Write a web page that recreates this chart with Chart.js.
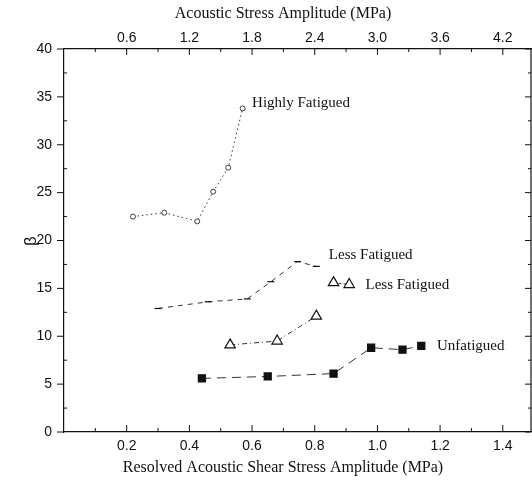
<!DOCTYPE html>
<html>
<head>
<meta charset="utf-8">
<script src="https://cdn.jsdelivr.net/npm/chart.js@4.4.1/dist/chart.umd.min.js"></script>
<style>
  body { margin: 0; background: #fff; }
  canvas { display: block; }
</style>
</head>
<body>
<canvas id="chart" width="532" height="486"></canvas>
<script>
// данные (x — нижняя ось, МПа; y — β)
const unfatiguedX = [0.44, 0.65, 0.86, 0.98, 1.08, 1.14];
const unfatiguedY = [5.6, 5.8, 6.1, 8.8, 8.6, 9.0];

const lessTriX = [0.53, 0.68, 0.805];
const lessTriY = [9.1, 9.5, 12.1];

// пара треугольников рядом с подписью
const lessTriKeyX = [0.86, 0.91];
const lessTriKeyY = [15.6, 15.4];

const lessX = [0.30, 0.46, 0.585, 0.66, 0.745, 0.805];
const lessY = [12.9, 13.6, 13.9, 15.7, 17.8, 17.3];

const highlyX = [0.22, 0.32, 0.425, 0.476, 0.524, 0.57];
const highlyY = [22.5, 22.9, 22.0, 25.1, 27.6, 33.8];

const bottomTicks = [0.2, 0.4, 0.6, 0.8, 1.0, 1.2, 1.4];
const topTicks = [0.6, 1.2, 1.8, 2.4, 3.0, 3.6, 4.2];
const X_MAX = 1.49;
const TOP_FACTOR = 3;

const labelTexts = ['Highly Fatigued', 'Less Fatigued', 'Less Fatigued', 'Unfatigued'];
const labelX = [0.60, 0.845, 0.962, 1.19];
const labelY = [34.4, 18.5, 15.35, 9.0];

const ink = '#111';
const serif = '"Liberation Serif", "DejaVu Serif", serif';
const sans = '"Liberation Sans", Arial, sans-serif';

function pts(xs, ys) {
  return xs.map((x, i) => ({ x, y: ys[i] }));
}

// правая граница рамки и засечки (внутрь / наружу)
const frameTicks = {
  id: 'frameTicks',
  afterDraw(chart) {
    const { ctx, chartArea: a, scales } = chart;
    ctx.save();
    ctx.strokeStyle = ink;
    const line = (x1, y1, x2, y2) => {
      ctx.beginPath();
      ctx.moveTo(x1, y1);
      ctx.lineTo(x2, y2);
      ctx.stroke();
    };
    ctx.lineWidth = 1.2;
    line(a.right, a.top, a.right, a.bottom);
    ctx.lineWidth = 1;
    for (let i = 1; i <= 14; i++) {
      const px = scales.x.getPixelForValue(i * 0.1);
      line(px, a.bottom, px, a.bottom - (i % 2 === 0 ? 7 : 4));
      const tx = scales.x2.getPixelForValue(i * 0.3);
      line(tx, a.top, tx, a.top + (i % 2 === 0 ? 6 : 3));
    }
    for (let i = 0; i <= 16; i++) {
      const py = scales.y.getPixelForValue(i * 2.5);
      if (i % 2 === 0) line(a.left - 7, py, a.left, py);
      else line(a.left, py, a.left + 3, py);
      line(a.right, py, a.right - (i % 2 === 0 ? 6 : 3), py);
    }
    ctx.restore();
  }
};

// подписи серий и заголовки осей
const textLayer = {
  id: 'textLayer',
  afterDraw(chart) {
    const { ctx, scales } = chart;
    ctx.save();
    ctx.fillStyle = ink;
    ctx.font = '15px ' + serif;
    ctx.textAlign = 'left';
    ctx.textBaseline = 'middle';
    labelTexts.forEach((t, i) => {
      ctx.fillText(t, scales.x.getPixelForValue(labelX[i]), scales.y.getPixelForValue(labelY[i]));
    });

    ctx.font = '16px ' + serif;
    ctx.textAlign = 'center';
    ctx.fillText('Acoustic Stress Amplitude (MPa)', 283, 14);
    ctx.fillText('Resolved Acoustic Shear Stress Amplitude (MPa)', 283, 468);

    ctx.translate(31, 241);
    ctx.rotate(-Math.PI / 2);
    ctx.font = '17px ' + sans;
    ctx.fillText('β', 0, 0);
    ctx.restore();
  }
};

// фиксированные размеры осей, без запаса под крайние подписи
function fixHeight(h) {
  return (s) => {
    s.height = h;
    s.paddingLeft = 0;
    s.paddingRight = 0;
  };
}

const lineBase = {
  showLine: true,
  borderColor: '#333',
  borderWidth: 1,
  pointBorderColor: ink,
  pointBorderWidth: 1.2,
};

new Chart(document.getElementById('chart'), {
  type: 'scatter',
  data: {
    datasets: [
      {
        ...lineBase,
        label: 'Unfatigued',
        data: pts(unfatiguedX, unfatiguedY),
        borderDash: [9, 6],
        pointStyle: 'rect',
        pointRadius: 5,
        pointBackgroundColor: ink,
      },
      {
        ...lineBase,
        label: 'Less Fatigued (triangles)',
        data: pts(lessTriX, lessTriY),
        borderDash: [5, 3, 1, 3],
        pointStyle: 'triangle',
        pointRadius: 6,
        pointBackgroundColor: '#fff',
      },
      {
        ...lineBase,
        label: 'Less Fatigued key',
        data: pts(lessTriKeyX, lessTriKeyY),
        borderDash: [3, 2],
        pointStyle: 'triangle',
        pointRadius: 6,
        pointBackgroundColor: '#fff',
      },
      {
        ...lineBase,
        label: 'Less Fatigued',
        data: pts(lessX, lessY),
        borderDash: [5, 5],
        pointStyle: 'line',
        pointRadius: 3.5,
        pointBackgroundColor: '#fff',
      },
      {
        ...lineBase,
        label: 'Highly Fatigued',
        data: pts(highlyX, highlyY),
        borderDash: [1.5, 3],
        pointStyle: 'circle',
        pointRadius: 2.5,
        pointBorderWidth: 0.8,
        pointBackgroundColor: '#fff',
      },
    ],
  },
  options: {
    responsive: false,
    animation: false,
    layout: { autoPadding: false, padding: { left: 0, top: 0, bottom: 0, right: 1 } },
    plugins: {
      legend: { display: false },
      tooltip: { enabled: false },
    },
    scales: {
      x: {
        type: 'linear',
        position: 'bottom',
        min: 0,
        max: X_MAX,
        afterBuildTicks: (s) => { s.ticks = bottomTicks.map((v) => ({ value: v })); },
        afterFit: fixHeight(54),
        grid: { display: false, drawTicks: false },
        border: { display: true, color: ink, width: 1.2 },
        ticks: {
          color: ink,
          font: { family: sans, size: 14 },
          padding: 6,
          maxRotation: 0,
          callback: (v) => Number(v).toFixed(1),
        },
      },
      x2: {
        type: 'linear',
        position: 'top',
        min: 0,
        max: X_MAX * TOP_FACTOR,
        afterBuildTicks: (s) => { s.ticks = topTicks.map((v) => ({ value: v })); },
        afterFit: fixHeight(49),
        grid: { display: false, drawTicks: false },
        border: { display: true, color: ink, width: 1.2 },
        ticks: {
          color: ink,
          font: { family: sans, size: 14 },
          padding: 2,
          maxRotation: 0,
          callback: (v) => Number(v).toFixed(1),
        },
      },
      y: {
        position: 'left',
        min: 0,
        max: 40,
        afterFit: (s) => { s.width = 64; },
        grid: { display: false, drawTicks: false },
        border: { display: true, color: ink, width: 1.2 },
        ticks: {
          stepSize: 5,
          color: ink,
          font: { family: sans, size: 14 },
          padding: 12,
        },
      },
    },
  },
  plugins: [frameTicks, textLayer],
});
</script>
</body>
</html>
